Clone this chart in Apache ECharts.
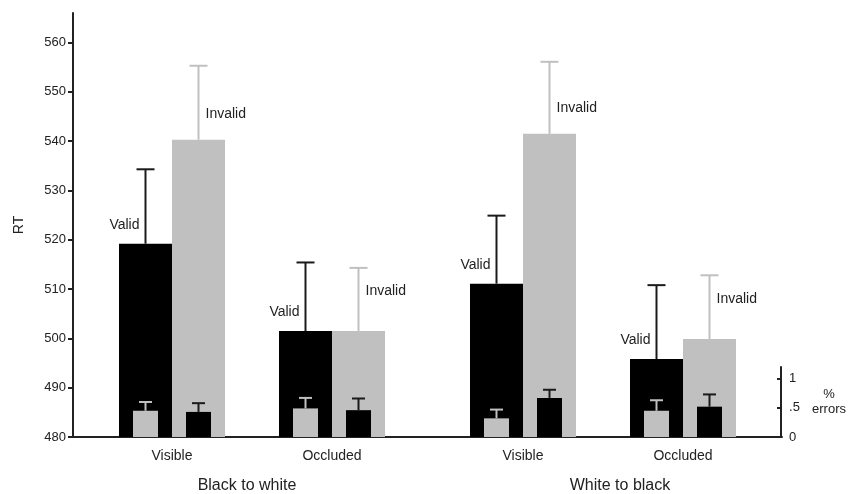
<!DOCTYPE html>
<html>
<head>
<meta charset="utf-8">
<script src="https://cdn.jsdelivr.net/npm/echarts@6/dist/echarts.min.js"></script>
<style>
  html, body { margin: 0; padding: 0; background: #fff; }
  #chart { width: 849px; height: 494px; }
</style>
</head>
<body>
<div id="chart"></div>
<script>
// Conditions within each contrast group
const conditions = ['Visible', 'Occluded'];
const groups = ['Black to white', 'White to black'];

// Mean RT (ms) and standard error; order: BW-Visible, BW-Occluded, WB-Visible, WB-Occluded
const rtValid = [519.2, 501.5, 511.1, 495.8];
const rtValidSE = [15.1, 13.9, 13.8, 15.0];
const rtInvalid = [540.3, 501.5, 541.5, 499.9];
const rtInvalidSE = [15.0, 12.8, 14.6, 12.9];

// Error rates (%) and standard error, same order
const errValid = [0.45, 0.49, 0.32, 0.45];
const errValidSE = [0.15, 0.18, 0.15, 0.18];
const errInvalid = [0.43, 0.46, 0.67, 0.52];
const errInvalidSE = [0.15, 0.20, 0.14, 0.21];

// Axis ticks
const rtTicks = [480, 490, 500, 510, 520, 530, 540, 550, 560];
const errTicks = [0, 0.5, 1];
const errTickLabels = ['0', '.5', '1'];

const FONT = 'Liberation Sans, Arial, Helvetica, sans-serif';
const TEXT = '#222';
const BLACK = '#000';
const GRAY = '#c0c0c0';
const AXIS = '#222';
const FS = 14;

const RT_MIN = 480, RT_MAX = 566;
const ERR_MAX = 1.2;

const BAR_W = 53;       // big RT bars
const SMALL_W = 25;     // small error-rate bars
const invalidRise = [26, 40];   // label lift of "Invalid" above its bar, per condition

const chart = echarts.init(document.getElementById('chart'), null, { renderer: 'canvas' });

const grids = [
  { left: 73, right: 67, top: 13, bottom: 57 },            // 0: frame with RT axis
  { left: 73, right: 67, top: 367, bottom: 57 },           // 1: % errors axis
  { left: 92, width: 320, top: 13, bottom: 57 },           // 2: RT, black to white
  { left: 443, width: 320, top: 13, bottom: 57 },          // 3: RT, white to black
  { left: 92, width: 320, top: 367, bottom: 57 },          // 4: errors, black to white
  { left: 443, width: 320, top: 367, bottom: 57 }          // 5: errors, white to black
];

const catLabel = { margin: 12, fontSize: FS, color: TEXT, fontFamily: FONT };

const xAxes = [
  { gridIndex: 0, type: 'value', min: 0, max: 1,
    axisLine: { show: true, onZero: false, lineStyle: { color: AXIS, width: 2 } },
    axisTick: { show: false }, axisLabel: { show: false }, splitLine: { show: false } },
  { gridIndex: 1, type: 'value', min: 0, max: 1, show: false },
  { gridIndex: 2, type: 'category', data: conditions,
    axisLine: { show: false }, axisTick: { show: false }, axisLabel: catLabel },
  { gridIndex: 3, type: 'category', data: conditions,
    axisLine: { show: false }, axisTick: { show: false }, axisLabel: catLabel },
  { gridIndex: 4, type: 'category', data: conditions, show: false },
  { gridIndex: 5, type: 'category', data: conditions, show: false }
];

const hiddenRT = (g) => ({ gridIndex: g, type: 'value', min: RT_MIN, max: RT_MAX, show: false, splitLine: { show: false } });
const hiddenErr = (g) => ({ gridIndex: g, type: 'value', min: 0, max: ERR_MAX, show: false, splitLine: { show: false } });

const yAxes = [
  { gridIndex: 0, type: 'value', position: 'left', min: RT_MIN, max: RT_MAX, interval: 10,
    name: 'RT', nameLocation: 'middle', nameGap: 47,
    nameTextStyle: { fontSize: FS, color: TEXT, fontFamily: FONT },
    axisLine: { show: true, onZero: false, lineStyle: { color: AXIS, width: 2 } },
    axisTick: { show: true, length: 5, lineStyle: { color: AXIS, width: 2 }, customValues: rtTicks },
    axisLabel: { margin: 7, fontSize: 13, color: TEXT, fontFamily: FONT, customValues: rtTicks },
    splitLine: { show: false } },
  { gridIndex: 1, type: 'value', position: 'right', min: 0, max: ERR_MAX,
    name: '%\nerrors', nameLocation: 'middle', nameRotate: 0, nameGap: 48,
    nameTextStyle: { fontSize: 13, color: TEXT, fontFamily: FONT, align: 'center', lineHeight: 15 },
    axisLine: { show: true, onZero: false, lineStyle: { color: AXIS, width: 2 } },
    axisTick: { show: true, inside: true, length: 4, lineStyle: { color: AXIS, width: 2 }, customValues: errTicks },
    axisLabel: { margin: 8, fontSize: 13, color: TEXT, fontFamily: FONT, customValues: errTicks,
      formatter: (v) => errTickLabels[errTicks.indexOf(v)] ?? '' },
    splitLine: { show: false } },
  hiddenRT(2), hiddenRT(3), hiddenErr(4), hiddenErr(5)
];

// Upward whisker with a cap, drawn at an offset from the category centre
function whisker(offset, capW, color, lineW) {
  return function (params, api) {
    const idx = api.value(0);
    const base = api.coord([idx, api.value(1)]);
    const top = api.coord([idx, api.value(1) + api.value(2)]);
    const x = base[0] + offset;
    return {
      type: 'group',
      children: [
        { type: 'line', shape: { x1: x, y1: base[1], x2: x, y2: top[1] },
          style: { stroke: color, lineWidth: lineW } },
        { type: 'line', shape: { x1: x - capW / 2, y1: top[1], x2: x + capW / 2, y2: top[1] },
          style: { stroke: color, lineWidth: lineW } }
      ]
    };
  };
}

const series = [];
for (let g = 0; g < 2; g++) {
  const s = g * 2;
  const sl = (arr) => arr.slice(s, s + 2);
  const rtX = 2 + g, rtY = 2 + g, erX = 4 + g, erY = 4 + g;

  series.push({
    name: 'Valid', type: 'bar', xAxisIndex: rtX, yAxisIndex: rtY,
    barWidth: BAR_W, barGap: '0%', z: 2,
    itemStyle: { color: BLACK },
    label: { show: true, formatter: 'Valid', position: [BAR_W / 2 - 6, -19],
      align: 'right', verticalAlign: 'middle', fontSize: FS, color: TEXT, fontFamily: FONT },
    data: sl(rtValid)
  });
  series.push({
    name: 'Invalid', type: 'bar', xAxisIndex: rtX, yAxisIndex: rtY,
    barWidth: BAR_W, barGap: '0%', z: 2,
    itemStyle: { color: GRAY },
    label: { show: true, formatter: 'Invalid', align: 'left', verticalAlign: 'middle',
      fontSize: FS, color: TEXT, fontFamily: FONT },
    data: sl(rtInvalid).map((v, i) => ({ value: v, label: { position: [BAR_W / 2 + 7, -invalidRise[i]] } }))
  });
  series.push({
    type: 'custom', xAxisIndex: rtX, yAxisIndex: rtY, z: 3, silent: true,
    renderItem: whisker(-BAR_W / 2, 18, '#1a1a1a', 2),
    data: sl(rtValid).map((v, i) => [i, v, sl(rtValidSE)[i]])
  });
  series.push({
    type: 'custom', xAxisIndex: rtX, yAxisIndex: rtY, z: 3, silent: true,
    renderItem: whisker(BAR_W / 2, 18, GRAY, 2),
    data: sl(rtInvalid).map((v, i) => [i, v, sl(rtInvalidSE)[i]])
  });

  series.push({
    name: 'Valid errors', type: 'bar', xAxisIndex: erX, yAxisIndex: erY,
    barWidth: SMALL_W, barGap: ((BAR_W - SMALL_W) / SMALL_W * 100) + '%', z: 4,
    itemStyle: { color: GRAY },
    data: sl(errValid)
  });
  series.push({
    name: 'Invalid errors', type: 'bar', xAxisIndex: erX, yAxisIndex: erY,
    barWidth: SMALL_W, z: 4,
    itemStyle: { color: BLACK },
    data: sl(errInvalid)
  });
  series.push({
    type: 'custom', xAxisIndex: erX, yAxisIndex: erY, z: 5, silent: true,
    renderItem: whisker(-BAR_W / 2, 13, GRAY, 2),
    data: sl(errValid).map((v, i) => [i, v, sl(errValidSE)[i]])
  });
  series.push({
    type: 'custom', xAxisIndex: erX, yAxisIndex: erY, z: 5, silent: true,
    renderItem: whisker(BAR_W / 2, 13, '#1a1a1a', 2),
    data: sl(errInvalid).map((v, i) => [i, v, sl(errInvalidSE)[i]])
  });
}

chart.setOption({
  backgroundColor: '#fff',
  animation: false,
  title: [
    { text: groups[0], left: 247, top: 478, textAlign: 'center', padding: 0,
      textStyle: { fontSize: 16, fontWeight: 'normal', color: TEXT, fontFamily: FONT } },
    { text: groups[1], left: 620, top: 478, textAlign: 'center', padding: 0,
      textStyle: { fontSize: 16, fontWeight: 'normal', color: TEXT, fontFamily: FONT } }
  ],
  grid: grids,
  xAxis: xAxes,
  yAxis: yAxes,
  series: series
});
</script>
</body>
</html>
